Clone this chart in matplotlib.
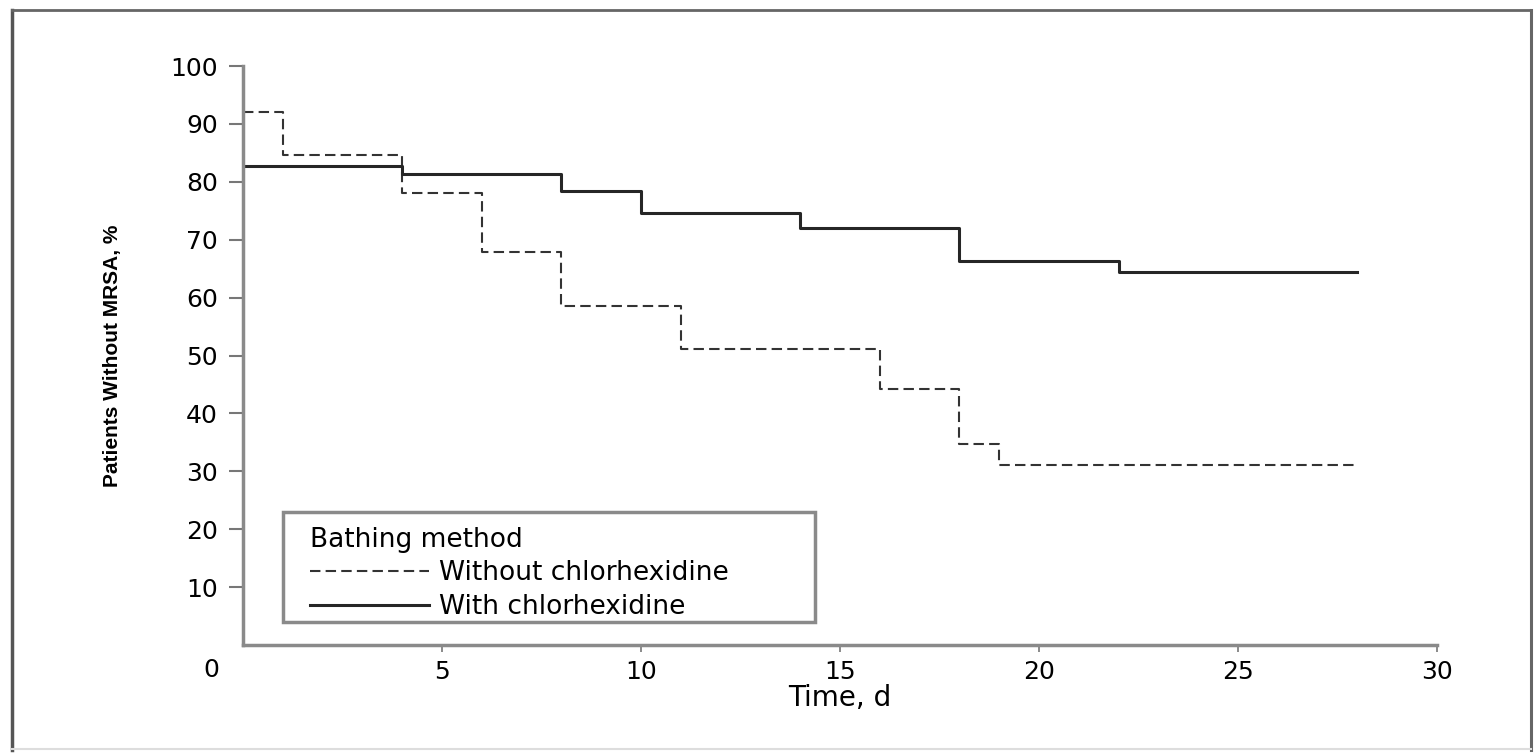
import matplotlib.pyplot as plt
from matplotlib.lines import Line2D
from matplotlib.patches import Rectangle

# Kaplan-Meier style step data
days_without = [0, 1, 4, 6, 8, 11, 16, 18, 19, 28]
pct_without = [92.0, 84.6, 78.1, 67.9, 58.5, 51.1, 44.2, 34.8, 31.1, 31.1]

days_with = [0, 4, 8, 10, 14, 18, 22, 28]
pct_with = [82.8, 81.3, 78.4, 74.6, 72.0, 66.3, 64.4, 64.4]

x_ticks = [5, 10, 15, 20, 25, 30]
y_ticks = [10, 20, 30, 40, 50, 60, 70, 80, 90, 100]

plt.rcParams['font.family'] = ['DejaVu Sans']

fig = plt.figure(figsize=(15.37, 7.55), dpi=100)
W, H = 1537, 755

# outer frame (left, top, right dark; bottom faint)
def px(x, y):
    return x / W, 1 - y / H

for (x0, y0), (x1, y1), col, lw in [((12, 10), (12, 750), '#555555', 2.5),
                                    ((12, 10), (1531, 10), '#666666', 2.0),
                                    ((1531, 10), (1531, 750), '#666666', 2.2),
                                    ((12, 749), (1531, 749), '#dddddd', 1.5)]:
    a, b = px(x0, y0)
    c, d = px(x1, y1)
    fig.add_artist(Line2D([a, c], [b, d], transform=fig.transFigure, color=col, linewidth=lw))

ax_w, ax_h = 1194, 579
ax = fig.add_axes([243 / W, 1 - 645 / H, ax_w / W, ax_h / H])

ax.step(days_without, pct_without, where='post', color='#333333', linestyle=(0, (5, 2.5)),
        linewidth=1.5, label='Without chlorhexidine')
ax.step(days_with, pct_with, where='post', color='#262626', linestyle='-',
        linewidth=2.2, label='With chlorhexidine')

ax.set_xlim(0, 30)
ax.set_ylim(0, 100)
ax.set_xticks(x_ticks)
ax.set_yticks(y_ticks)

for side in ['top', 'right']:
    ax.spines[side].set_visible(False)
for side in ['left', 'bottom']:
    ax.spines[side].set_color('#8a8a8a')
    ax.spines[side].set_linewidth(2.5)

ax.tick_params(axis='y', direction='out', length=10, width=1.5, color='#777777',
               labelsize=18, pad=8)
ax.tick_params(axis='x', direction='out', length=5, width=1.2, color='#777777',
               labelsize=18, pad=6)

# shared origin label
ax.text(-0.8, -4.4, '0', ha='center', va='center', fontsize=18)

ax.set_xlabel('Time, d', fontsize=20, labelpad=0)
ax.set_ylabel('Patients Without MRSA, %', fontsize=15, labelpad=35,
              family=['Liberation Sans', 'DejaVu Sans'], fontweight='bold')

# legend box drawn separately so the inner padding can match
ax.add_patch(Rectangle(((283 - 243) / ax_w, (645 - 622) / ax_h), (815 - 283) / ax_w,
                       (622 - 512) / ax_h, transform=ax.transAxes, fill=True,
                       facecolor='white', edgecolor='#8a8a8a', linewidth=2.5, zorder=4))
leg = ax.legend(loc='upper left', bbox_to_anchor=((310 - 243) / ax_w, (645 - 527) / ax_h),
                title='Bathing method', alignment='left', fontsize=19, title_fontsize=19,
                frameon=False, handlelength=4.5, handletextpad=0.38,
                borderpad=0, labelspacing=0.28, borderaxespad=0)
leg.set_zorder(5)

fig.savefig('out.png', dpi=100)
